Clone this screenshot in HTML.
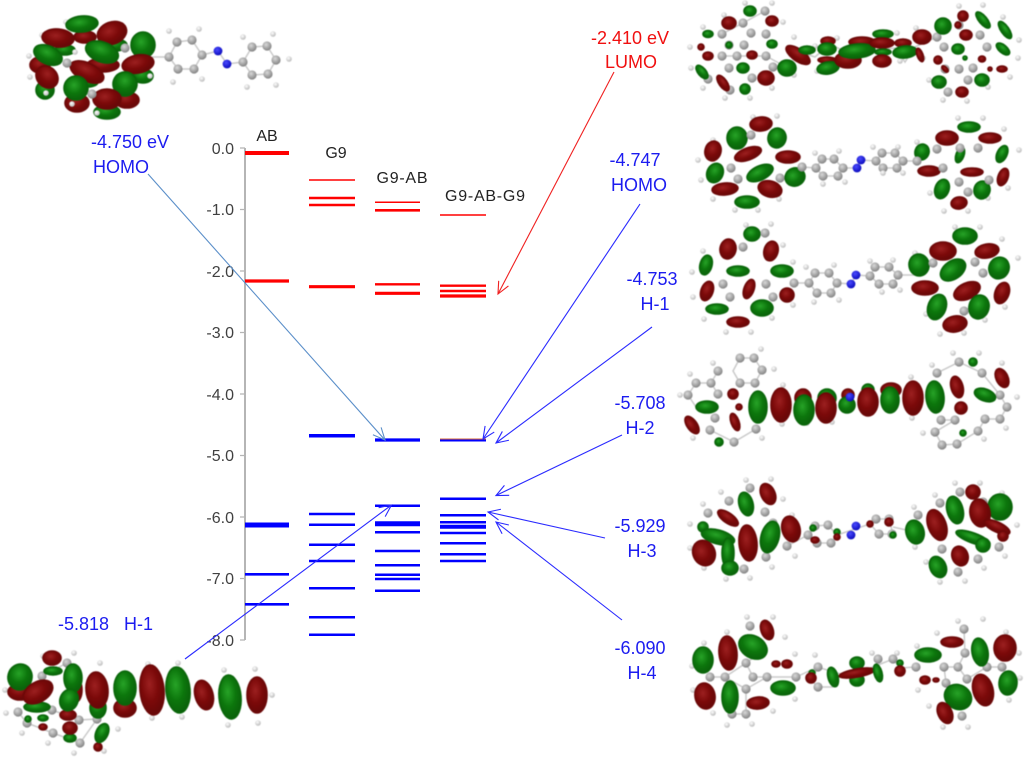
<!DOCTYPE html>
<html><head><meta charset="utf-8"><title>Energy level diagram</title>
<style>
html,body{margin:0;padding:0;background:#fff;width:1024px;height:757px;overflow:hidden}
svg{display:block}
text{font-family:"Liberation Sans",sans-serif;font-size:16px}
.b text,text.b{fill:#1c1cf0;font-size:18px}
.lu text{fill:#f01010;font-size:18px}
.ax text{fill:#404040;text-anchor:end;font-size:16px}
.t text{fill:#222;text-anchor:middle}
.g{fill:url(#gg);stroke:#0a660a;stroke-width:1.6}.r{fill:url(#rr);stroke:#6c0808;stroke-width:1.6}
.c{fill:url(#cc);r:4.6px}.h{fill:url(#hh);r:2.8px}.n{fill:url(#nn);r:4.4px}
.m{filter:blur(.5px)}
.bd{fill:none;stroke:#cacaca;stroke-width:1.5}
</style></head><body>
<svg width="1024" height="757" viewBox="0 0 1024 757" xmlns="http://www.w3.org/2000/svg">
<defs>
<radialGradient id="gg" cx=".42" cy=".38" r=".7"><stop offset="0" stop-color="#27a327"/><stop offset=".5" stop-color="#0c760c"/><stop offset="1" stop-color="#0a5c0a"/></radialGradient>
<radialGradient id="rr" cx=".42" cy=".38" r=".7"><stop offset="0" stop-color="#9c2020"/><stop offset=".5" stop-color="#7b0909"/><stop offset="1" stop-color="#600808"/></radialGradient>
<radialGradient id="cc" cx=".4" cy=".35" r=".7"><stop offset="0" stop-color="#d8d8d8"/><stop offset="1" stop-color="#7e7e7e"/></radialGradient>
<radialGradient id="hh" cx=".4" cy=".35" r=".7"><stop offset="0" stop-color="#fff"/><stop offset="1" stop-color="#b4b4b4"/></radialGradient>
<radialGradient id="nn" cx=".4" cy=".35" r=".7"><stop offset="0" stop-color="#4a4aff"/><stop offset="1" stop-color="#0606b8"/></radialGradient>
<marker id="ma" markerUnits="userSpaceOnUse" markerWidth="16" markerHeight="16" refX="13" refY="8" orient="auto"><path d="M1 2.5L13 8L1 13.5" fill="none" stroke="#5b8fc9" stroke-width="1.1"/></marker>
<marker id="mr" markerUnits="userSpaceOnUse" markerWidth="16" markerHeight="16" refX="13" refY="8" orient="auto"><path d="M1 2.5L13 8L1 13.5" fill="none" stroke="#f02020" stroke-width="1.1"/></marker>
<marker id="mb" markerUnits="userSpaceOnUse" markerWidth="16" markerHeight="16" refX="13" refY="8" orient="auto"><path d="M1 2.5L13 8L1 13.5" fill="none" stroke="#2a2aff" stroke-width="1.1"/></marker>
</defs>

<!-- axis -->
<path d="M245 148V640" stroke="#b5b5b5" stroke-width="2"/>
<path d="M240 148H245M240 209.5H245M240 271H245M240 332.500H245M240 394H245M240 455.500H245M240 517H245M240 578.500H245M240 640H245" stroke="#b5b5b5" stroke-width="1.2"/>
<g class="ax">
<text x="234" y="154">0.0</text><text x="234" y="215">-1.0</text><text x="234" y="277">-2.0</text><text x="234" y="338">-3.0</text><text x="234" y="400">-4.0</text><text x="234" y="461">-5.0</text><text x="234" y="523">-6.0</text><text x="234" y="584">-7.0</text><text x="234" y="646">-8.0</text>
</g>
<g class="t">
<text x="267" y="141">AB</text><text x="336" y="158">G9</text><text x="402" y="183" textLength="51">G9-AB</text><text x="485" y="201" textLength="80">G9-AB-G9</text>
</g>

<!-- red levels -->
<g stroke="#ff0000">
<path d="M245 153H289" stroke-width="4"/><path d="M245 281H289" stroke-width="3.2"/>
<path d="M309 180H355" stroke-width="1.5"/><path d="M309 198H355M309 205H355" stroke-width="2.6"/><path d="M309 286.700H355" stroke-width="3.2"/>
<path d="M375 202.300H420" stroke-width="1.5"/><path d="M375 210.300H420" stroke-width="2.6"/><path d="M375 284.300H420" stroke-width="2.400"/><path d="M375 293.300H420" stroke-width="3.200"/>
<path d="M440 215H486" stroke-width="1.5"/><path d="M440 285.700H486M440 291H486" stroke-width="2.400"/><path d="M440 296H486" stroke-width="3.200"/>
</g>
<!-- blue levels -->
<g stroke="#0000ff">
<path d="M245 525H289" stroke-width="5"/><path d="M245 574.300H289M245 604.300H289" stroke-width="2.6"/>
<path d="M309 435.700H355" stroke-width="3.500"/><path d="M309 514H355M309 524.700H355M309 544.700H355M309 561H355M309 588.300H355M309 617.300H355M309 634.700H355" stroke-width="2.500"/>
<path d="M375 440H420" stroke-width="3.200"/><path d="M375 523.700H420" stroke-width="5"/><path d="M375 505.700H420M375 532.300H420M375 551H420M375 565.300H420M375 574.700H420M375 579H420M375 590.700H420" stroke-width="2.500"/>
<path d="M440 440.500H486" stroke-width="2"/><path d="M440 526.700H486" stroke-width="4"/><path d="M440 498.700H486M440 515.300H486M440 522.300H486M440 533H486M440 543.300H486M440 554.300H486M440 561H486" stroke-width="2.500"/>
</g>
<path d="M440 439H486" stroke="#d9683a" stroke-width="1"/>

<!-- arrows -->
<g fill="none" stroke-width="1.100">
<path d="M148 174L385 440" stroke="#5b8fc9" marker-end="url(#ma)"/>
<path d="M614 72L498 294" stroke="#f02020" marker-end="url(#mr)"/>
<g stroke="#2a2aff">
<path d="M640 204L483 439" marker-end="url(#mb)"/>
<path d="M652 327L496 443" marker-end="url(#mb)"/>
<path d="M622 435L496 495.500" marker-end="url(#mb)"/>
<path d="M605 538L488 512" marker-end="url(#mb)"/>
<path d="M622 620L496 522" marker-end="url(#mb)"/>
<path d="M185 659L391.500 505" marker-end="url(#mb)"/>
</g></g>

<!-- labels -->
<g class="b" text-anchor="middle">
<text x="130" y="148">-4.750 eV</text><text x="121" y="173">HOMO</text>
<text x="635" y="166">-4.747</text><text x="639" y="191">HOMO</text>
<text x="652" y="285">-4.753</text><text x="655" y="310">H-1</text>
<text x="640" y="409">-5.708</text><text x="640" y="434">H-2</text>
<text x="640" y="532">-5.929</text><text x="642" y="557">H-3</text>
<text x="640" y="654">-6.090</text><text x="642" y="679">H-4</text>
</g>
<text class="b" x="58" y="630" xml:space="preserve">-5.818   H-1</text>
<g class="lu" text-anchor="middle"><text x="630" y="44">-2.410 eV</text><text x="631" y="68">LUMO</text></g>

<g class="m">
<!-- AB top-left -->
<path class="bd" d="M169 57L177 42L192 40L202 55L194 69L178 69ZM202 55L218 51L227 64L243 62L252 47L267 46L276 60L268 74L252 75L243 62M150 57L169 57"/>
<circle class="c" cx="169" cy="57"/><circle class="c" cx="177" cy="42"/><circle class="c" cx="192" cy="40"/><circle class="c" cx="202" cy="55"/><circle class="c" cx="194" cy="69"/><circle class="c" cx="178" cy="69"/>
<circle class="n" cx="218" cy="51"/><circle class="n" cx="227" cy="64"/>
<circle class="c" cx="243" cy="62"/><circle class="c" cx="252" cy="47"/><circle class="c" cx="267" cy="46"/><circle class="c" cx="276" cy="60"/><circle class="c" cx="268" cy="74"/><circle class="c" cx="252" cy="75"/>
<circle class="h" cx="169" cy="31"/><circle class="h" cx="199" cy="29"/><circle class="h" cx="202" cy="79"/><circle class="h" cx="173" cy="82"/><circle class="h" cx="243" cy="37"/><circle class="h" cx="273" cy="34"/><circle class="h" cx="289" cy="59"/><circle class="h" cx="276" cy="85"/><circle class="h" cx="247" cy="87"/>
<circle class="h" cx="29" cy="56"/><circle class="h" cx="30" cy="77"/><circle class="h" cx="42" cy="35"/><circle class="h" cx="66" cy="22"/><circle class="h" cx="126" cy="92"/>
<ellipse class="r" cx="85" cy="37" rx="11" ry="6"/><ellipse class="r" cx="40" cy="65" rx="10" ry="8"/><ellipse class="g" cx="45" cy="90" rx="9" ry="9"/><ellipse class="r" cx="77" cy="103" rx="12" ry="9"/><ellipse class="r" cx="127" cy="100" rx="12" ry="8"/><ellipse class="g" cx="143" cy="76" rx="10" ry="7"/><ellipse class="r" cx="103" cy="65" rx="16" ry="7"/><ellipse class="g" cx="107" cy="112" rx="13" ry="7"/><ellipse class="g" cx="65" cy="50" rx="10" ry="5"/><ellipse class="g" cx="115" cy="45" rx="12" ry="6"/><ellipse class="g" cx="88" cy="82" rx="10" ry="5"/>
<ellipse class="g" cx="82" cy="24" rx="16" ry="8" transform="rotate(-5 82 24)"/>
<ellipse class="r" cx="58" cy="38" rx="16" ry="9" transform="rotate(5 58 38)"/>
<ellipse class="r" cx="112" cy="33" rx="15" ry="11" transform="rotate(-20 112 33)"/>
<ellipse class="g" cx="143" cy="45" rx="12" ry="13"/>
<ellipse class="g" cx="48" cy="55" rx="15" ry="9" transform="rotate(25 48 55)"/>
<ellipse class="g" cx="102" cy="52" rx="17" ry="10" transform="rotate(20 102 52)"/>
<ellipse class="r" cx="138" cy="64" rx="16" ry="9" transform="rotate(-10 138 64)"/>
<ellipse class="r" cx="47" cy="77" rx="12" ry="10" transform="rotate(45 47 77)"/>
<ellipse class="r" cx="87" cy="72" rx="18" ry="9" transform="rotate(25 87 72)"/>
<ellipse class="g" cx="76" cy="88" rx="12" ry="12"/>
<ellipse class="g" cx="125" cy="84" rx="12" ry="12" transform="rotate(30 125 84)"/>
<ellipse class="r" cx="107" cy="99" rx="14" ry="10"/>
<circle class="h" cx="75" cy="52"/><circle class="c" cx="67" cy="63"/><circle class="c" cx="125" cy="48"/><circle class="h" cx="72" cy="104"/><circle class="h" cx="97" cy="113"/><circle class="h" cx="150" cy="76"/><circle class="h" cx="46" cy="93"/><circle class="c" cx="92" cy="94"/>

<!-- LUMO top-right -->
<path class="bd" d="M794 50L815 57L830 44L846 52L866 57L880 50L895 48L905 62L915 47L937 37M722 34L743 23L765 11M722 56L737 56L766 56L786 67"/>
<circle class="c" cx="765" cy="11"/><circle class="c" cx="743" cy="23"/><circle class="c" cx="751" cy="33"/><circle class="c" cx="722" cy="34"/><circle class="c" cx="729" cy="45"/><circle class="c" cx="744" cy="45"/><circle class="c" cx="766" cy="34"/><circle class="c" cx="722" cy="56"/><circle class="c" cx="737" cy="56"/><circle class="c" cx="766" cy="56"/><circle class="c" cx="729" cy="68"/><circle class="c" cx="773" cy="67"/><circle class="c" cx="752" cy="78"/><circle class="c" cx="708" cy="79"/><circle class="c" cx="730" cy="90"/>
<circle class="c" cx="959" cy="25"/><circle class="c" cx="937" cy="37"/><circle class="c" cx="980" cy="35"/><circle class="c" cx="944" cy="47"/><circle class="c" cx="987" cy="47"/><circle class="c" cx="959" cy="69"/><circle class="c" cx="945" cy="69"/><circle class="c" cx="968" cy="80"/><circle class="c" cx="948" cy="92"/><circle class="c" cx="973" cy="68"/>
<circle class="h" cx="772" cy="3"/><circle class="h" cx="745" cy="3"/><circle class="h" cx="724" cy="15"/><circle class="h" cx="703" cy="27"/><circle class="h" cx="690" cy="47"/><circle class="h" cx="691" cy="68"/><circle class="h" cx="703" cy="88"/><circle class="h" cx="725" cy="98"/><circle class="h" cx="750" cy="98"/><circle class="h" cx="772" cy="88"/><circle class="h" cx="783" cy="22"/><circle class="h" cx="794" cy="37"/><circle class="h" cx="794" cy="75"/><circle class="h" cx="815" cy="46"/><circle class="h" cx="837" cy="38"/><circle class="h" cx="817" cy="71"/><circle class="h" cx="897" cy="33"/><circle class="h" cx="900" cy="61"/><circle class="h" cx="923" cy="58"/><circle class="h" cx="916" cy="28"/><circle class="h" cx="959" cy="6"/><circle class="h" cx="983" cy="5"/><circle class="h" cx="1003" cy="17"/><circle class="h" cx="1019" cy="40"/><circle class="h" cx="1018" cy="58"/><circle class="h" cx="1010" cy="77"/><circle class="h" cx="988" cy="87"/><circle class="h" cx="967" cy="101"/><circle class="h" cx="943" cy="100"/><circle class="h" cx="929" cy="80"/>
<ellipse class="g" cx="750" cy="11" rx="6" ry="5"/><ellipse class="r" cx="729" cy="23" rx="7" ry="6"/><ellipse class="r" cx="772" cy="21" rx="6" ry="5"/><ellipse class="g" cx="708" cy="34" rx="5" ry="3.500"/><ellipse class="g" cx="729" cy="45" rx="3" ry="3"/><ellipse class="r" cx="701" cy="47" rx="3" ry="3"/><ellipse class="r" cx="708" cy="56" rx="5" ry="4"/><ellipse class="r" cx="752" cy="55" rx="5" ry="4"/><ellipse class="g" cx="772" cy="44" rx="5" ry="4"/><ellipse class="g" cx="743" cy="68" rx="6" ry="5"/>
<ellipse class="g" cx="702" cy="72" rx="8" ry="4" transform="rotate(50 702 72)"/><ellipse class="r" cx="723" cy="83" rx="9" ry="4" transform="rotate(55 723 83)"/><ellipse class="g" cx="745" cy="89" rx="5" ry="5"/><ellipse class="r" cx="766" cy="78" rx="8" ry="7"/><ellipse class="g" cx="787" cy="68" rx="9" ry="8"/>
<ellipse class="r" cx="798" cy="55" rx="14" ry="6" transform="rotate(35 798 55)"/><ellipse class="g" cx="807" cy="50" rx="8" ry="4"/><ellipse class="r" cx="828" cy="41" rx="7" ry="4"/><ellipse class="g" cx="827" cy="49" rx="9" ry="6"/><ellipse class="r" cx="827" cy="60" rx="9" ry="3"/><ellipse class="g" cx="828" cy="68" rx="11" ry="6" transform="rotate(-10 828 68)"/>
<ellipse class="r" cx="862" cy="42" rx="13" ry="5"/><ellipse class="r" cx="848" cy="60" rx="13" ry="8"/><ellipse class="g" cx="857" cy="51" rx="18" ry="7" transform="rotate(-5 857 51)"/><ellipse class="g" cx="883" cy="34" rx="10" ry="4"/><ellipse class="r" cx="882" cy="43" rx="12" ry="5"/><ellipse class="g" cx="883" cy="52" rx="8" ry="3"/><ellipse class="r" cx="882" cy="61" rx="9" ry="6"/><ellipse class="r" cx="903" cy="43" rx="8" ry="4"/><ellipse class="g" cx="905" cy="52" rx="12" ry="6" transform="rotate(-5 905 52)"/>
<ellipse class="r" cx="920" cy="55" rx="3" ry="7" transform="rotate(-20 920 55)"/><ellipse class="r" cx="922" cy="37" rx="9" ry="7"/><ellipse class="g" cx="943" cy="26" rx="8" ry="8"/><ellipse class="r" cx="958" cy="25" rx="3" ry="3"/><ellipse class="r" cx="966" cy="35" rx="6" ry="5"/><ellipse class="r" cx="963" cy="16" rx="5" ry="5"/><ellipse class="g" cx="983" cy="20" rx="10" ry="4" transform="rotate(50 983 20)"/><ellipse class="g" cx="1005" cy="30" rx="10" ry="4" transform="rotate(55 1005 30)"/><ellipse class="g" cx="958" cy="49" rx="6" ry="5"/><ellipse class="g" cx="965" cy="58" rx="2" ry="2"/><ellipse class="r" cx="982" cy="59" rx="3.500" ry="3"/><ellipse class="g" cx="1003" cy="49" rx="8" ry="4" transform="rotate(40 1003 49)"/><ellipse class="r" cx="1002" cy="69" rx="5" ry="3"/><ellipse class="r" cx="990" cy="69" rx="2" ry="2"/><ellipse class="g" cx="982" cy="80" rx="7" ry="6"/><ellipse class="r" cx="962" cy="92" rx="6" ry="5"/><ellipse class="g" cx="939" cy="82" rx="7" ry="6"/><ellipse class="r" cx="938" cy="60" rx="4" ry="4"/><ellipse class="r" cx="945" cy="69" rx="4" ry="2" transform="rotate(45 945 69)"/>

<!-- HOMO -->
<path class="bd" d="M802 167L816 168L823 176L838 176L843 168L834 159L822 159L816 168M843 168L857 168L861 160L876 161L882 153L895 153L903 161L897 168L883 168L876 161M903 161L917 161"/>
<circle class="c" cx="816" cy="168"/><circle class="c" cx="823" cy="176"/><circle class="c" cx="838" cy="176"/><circle class="c" cx="843" cy="168"/><circle class="c" cx="834" cy="159"/><circle class="c" cx="822" cy="159"/>
<circle class="n" cx="861" cy="160"/><circle class="n" cx="857" cy="168"/>
<circle class="c" cx="876" cy="161"/><circle class="c" cx="882" cy="153"/><circle class="c" cx="895" cy="153"/><circle class="c" cx="903" cy="161"/><circle class="c" cx="897" cy="168"/><circle class="c" cx="883" cy="168"/>
<circle class="h" cx="777" cy="116"/><circle class="h" cx="753" cy="117"/><circle class="h" cx="713" cy="140"/><circle class="h" cx="698" cy="160"/><circle class="h" cx="701" cy="180"/><circle class="h" cx="713" cy="199"/><circle class="h" cx="735" cy="210"/><circle class="h" cx="758" cy="210"/><circle class="h" cx="779" cy="199"/><circle class="h" cx="958" cy="118"/><circle class="h" cx="983" cy="118"/><circle class="h" cx="1004" cy="129"/><circle class="h" cx="1019" cy="150"/><circle class="h" cx="1008" cy="188"/><circle class="h" cx="988" cy="198"/><circle class="h" cx="968" cy="211"/><circle class="h" cx="944" cy="211"/><circle class="h" cx="930" cy="193"/><circle class="h" cx="917" cy="142"/><circle class="h" cx="815" cy="153"/><circle class="h" cx="839" cy="151"/><circle class="h" cx="845" cy="182"/><circle class="h" cx="823" cy="184"/><circle class="h" cx="873" cy="147"/><circle class="h" cx="898" cy="147"/><circle class="h" cx="883" cy="173"/><circle class="h" cx="903" cy="173"/>
<ellipse class="r" cx="761" cy="124" rx="11" ry="7" transform="rotate(-5 761 124)"/><ellipse class="g" cx="737" cy="138" rx="10" ry="11"/><ellipse class="g" cx="777" cy="138" rx="9" ry="10" transform="rotate(15 777 138)"/><ellipse class="r" cx="713" cy="151" rx="8" ry="10" transform="rotate(15 713 151)"/><ellipse class="r" cx="748" cy="154" rx="14" ry="6" transform="rotate(-20 748 154)"/><ellipse class="r" cx="788" cy="157" rx="12" ry="6"/><ellipse class="g" cx="715" cy="173" rx="8" ry="10" transform="rotate(25 715 173)"/><ellipse class="g" cx="760" cy="173" rx="14" ry="7" transform="rotate(-25 760 173)"/><ellipse class="g" cx="795" cy="177" rx="10" ry="9" transform="rotate(-20 795 177)"/><ellipse class="r" cx="725" cy="189" rx="13" ry="6" transform="rotate(-5 725 189)"/><ellipse class="r" cx="770" cy="189" rx="12" ry="8" transform="rotate(15 770 189)"/><ellipse class="g" cx="747" cy="202" rx="12" ry="6"/>
<ellipse class="g" cx="969" cy="127" rx="11" ry="5"/><ellipse class="r" cx="947" cy="138" rx="11" ry="7"/><ellipse class="r" cx="990" cy="138" rx="11" ry="5"/><ellipse class="g" cx="922" cy="152" rx="7" ry="8" transform="rotate(20 922 152)"/><ellipse class="g" cx="960" cy="155" rx="4" ry="8" transform="rotate(20 960 155)"/><ellipse class="g" cx="1002" cy="154" rx="5" ry="9" transform="rotate(25 1002 154)"/><ellipse class="r" cx="929" cy="171" rx="11" ry="5"/><ellipse class="r" cx="972" cy="172" rx="11" ry="4"/><ellipse class="r" cx="1003" cy="177" rx="5" ry="9" transform="rotate(20 1003 177)"/><ellipse class="g" cx="942" cy="189" rx="7" ry="10" transform="rotate(20 942 189)"/><ellipse class="g" cx="982" cy="190" rx="8" ry="9" transform="rotate(15 982 190)"/><ellipse class="r" cx="959" cy="203" rx="8" ry="6" transform="rotate(-10 959 203)"/>
<circle class="c" cx="751" cy="135"/><circle class="c" cx="731" cy="168"/><circle class="c" cx="738" cy="179"/><circle class="c" cx="780" cy="178"/><circle class="c" cx="802" cy="167"/><circle class="c" cx="937" cy="149"/><circle class="c" cx="978" cy="148"/><circle class="c" cx="917" cy="161"/><circle class="c" cx="943" cy="168"/><circle class="c" cx="959" cy="182"/><circle class="c" cx="968" cy="192"/><circle class="c" cx="989" cy="180"/><circle class="c" cx="960" cy="148"/>

<!-- H-1 -->
<path class="bd" d="M794 283L809 283L817 293L831 293L837 283L829 273L815 273L809 283M837 283L851 284L856 275L870 276L879 284L893 284L898 275L889 267L875 267L870 276M898 275L917 275"/>
<circle class="c" cx="809" cy="283"/><circle class="c" cx="817" cy="293"/><circle class="c" cx="831" cy="293"/><circle class="c" cx="837" cy="283"/><circle class="c" cx="829" cy="273"/><circle class="c" cx="815" cy="273"/>
<circle class="n" cx="856" cy="275"/><circle class="n" cx="851" cy="284"/>
<circle class="c" cx="870" cy="276"/><circle class="c" cx="879" cy="284"/><circle class="c" cx="893" cy="284"/><circle class="c" cx="898" cy="275"/><circle class="c" cx="889" cy="267"/><circle class="c" cx="875" cy="267"/>
<circle class="h" cx="746" cy="225"/><circle class="h" cx="771" cy="224"/><circle class="h" cx="703" cy="251"/><circle class="h" cx="783" cy="245"/><circle class="h" cx="692" cy="272"/><circle class="h" cx="693" cy="297"/><circle class="h" cx="704" cy="319"/><circle class="h" cx="726" cy="332"/><circle class="h" cx="751" cy="332"/><circle class="h" cx="772" cy="318"/><circle class="h" cx="793" cy="262"/><circle class="h" cx="793" cy="305"/><circle class="h" cx="955" cy="227"/><circle class="h" cx="980" cy="227"/><circle class="h" cx="1002" cy="239"/><circle class="h" cx="1018" cy="258"/><circle class="h" cx="1005" cy="307"/><circle class="h" cx="985" cy="320"/><circle class="h" cx="964" cy="333"/><circle class="h" cx="940" cy="334"/><circle class="h" cx="926" cy="314"/><circle class="h" cx="915" cy="253"/><circle class="h" cx="806" cy="267"/><circle class="h" cx="834" cy="265"/><circle class="h" cx="814" cy="302"/><circle class="h" cx="839" cy="300"/><circle class="h" cx="870" cy="261"/><circle class="h" cx="893" cy="260"/><circle class="h" cx="882" cy="292"/><circle class="h" cx="900" cy="290"/>
<ellipse class="g" cx="752" cy="234" rx="8" ry="7"/><ellipse class="r" cx="728" cy="249" rx="8" ry="10" transform="rotate(10 728 249)"/><ellipse class="r" cx="771" cy="251" rx="7" ry="10" transform="rotate(15 771 251)"/><ellipse class="g" cx="706" cy="265" rx="6" ry="10" transform="rotate(15 706 265)"/><ellipse class="g" cx="738" cy="271" rx="11" ry="5"/><ellipse class="g" cx="782" cy="271" rx="11" ry="6"/><ellipse class="r" cx="707" cy="291" rx="6" ry="10" transform="rotate(20 707 291)"/><ellipse class="r" cx="749" cy="289" rx="5" ry="10" transform="rotate(20 749 289)"/><ellipse class="r" cx="787" cy="295" rx="7" ry="7"/><ellipse class="g" cx="717" cy="309" rx="11" ry="5"/><ellipse class="g" cx="762" cy="308" rx="11" ry="8"/><ellipse class="r" cx="738" cy="322" rx="11" ry="5"/>
<ellipse class="g" cx="965" cy="236" rx="12" ry="8"/><ellipse class="r" cx="943" cy="251" rx="13" ry="9"/><ellipse class="r" cx="987" cy="251" rx="12" ry="7" transform="rotate(-10 987 251)"/><ellipse class="g" cx="919" cy="265" rx="10" ry="11" transform="rotate(-10 919 265)"/><ellipse class="g" cx="953" cy="270" rx="14" ry="9" transform="rotate(-35 953 270)"/><ellipse class="g" cx="999" cy="268" rx="10" ry="11" transform="rotate(25 999 268)"/><ellipse class="r" cx="925" cy="288" rx="13" ry="7"/><ellipse class="r" cx="967" cy="291" rx="14" ry="8" transform="rotate(-25 967 291)"/><ellipse class="r" cx="1002" cy="293" rx="7" ry="11" transform="rotate(20 1002 293)"/><ellipse class="g" cx="937" cy="307" rx="9" ry="13" transform="rotate(20 937 307)"/><ellipse class="g" cx="979" cy="307" rx="10" ry="12" transform="rotate(15 979 307)"/><ellipse class="r" cx="955" cy="324" rx="12" ry="8" transform="rotate(-10 955 324)"/>
<circle class="c" cx="794" cy="283"/><circle class="c" cx="765" cy="233"/><circle class="c" cx="743" cy="247"/><circle class="c" cx="723" cy="284"/><circle class="c" cx="730" cy="297"/><circle class="c" cx="766" cy="284"/><circle class="c" cx="773" cy="297"/><circle class="c" cx="933" cy="263"/><circle class="c" cx="975" cy="262"/><circle class="c" cx="983" cy="273"/><circle class="c" cx="964" cy="311"/>

<!-- H-2 -->
<path class="bd" d="M740 358L754 358L762 370L755 383L740 383L733 371L740 358M718 371L711 383L696 383L688 395L696 407M718 394L711 383M710 430L734 442L756 429M959 362L982 373L1000 395L1007 407L1000 419L985 419L978 431M937 373L959 362M941 420L955 420L935 432L942 445L957 444L978 431"/>
<circle class="c" cx="740" cy="358"/><circle class="c" cx="754" cy="358"/><circle class="c" cx="762" cy="370"/><circle class="c" cx="718" cy="371"/><circle class="c" cx="711" cy="383"/><circle class="c" cx="696" cy="383"/><circle class="c" cx="688" cy="395"/><circle class="c" cx="740" cy="383"/><circle class="c" cx="755" cy="383"/><circle class="c" cx="718" cy="394"/><circle class="c" cx="710" cy="430"/><circle class="c" cx="756" cy="429"/><circle class="c" cx="734" cy="442"/><circle class="c" cx="715" cy="418"/>
<circle class="c" cx="959" cy="362"/><circle class="c" cx="982" cy="373"/><circle class="c" cx="937" cy="373"/><circle class="c" cx="1000" cy="395"/><circle class="c" cx="1007" cy="407"/><circle class="c" cx="985" cy="419"/><circle class="c" cx="1000" cy="419"/><circle class="c" cx="978" cy="431"/><circle class="c" cx="955" cy="420"/><circle class="c" cx="941" cy="420"/><circle class="c" cx="935" cy="432"/><circle class="c" cx="957" cy="444"/><circle class="c" cx="942" cy="445"/>
<circle class="h" cx="761" cy="349"/><circle class="h" cx="713" cy="363"/><circle class="h" cx="690" cy="374"/><circle class="h" cx="774" cy="369"/><circle class="h" cx="680" cy="395"/><circle class="h" cx="693" cy="438"/><circle class="h" cx="762" cy="438"/><circle class="h" cx="953" cy="353"/><circle class="h" cx="979" cy="353"/><circle class="h" cx="932" cy="365"/><circle class="h" cx="1002" cy="363"/><circle class="h" cx="1017" cy="397"/><circle class="h" cx="1006" cy="428"/><circle class="h" cx="984" cy="439"/><circle class="h" cx="923" cy="433"/><circle class="h" cx="783" cy="385"/><circle class="h" cx="911" cy="377"/><circle class="h" cx="782" cy="424"/><circle class="h" cx="912" cy="418"/><circle class="h" cx="832" cy="422"/><circle class="h" cx="807" cy="423"/>
<ellipse class="g" cx="707" cy="407" rx="11" ry="6"/><ellipse class="r" cx="733" cy="394" rx="5" ry="5"/><ellipse class="r" cx="739" cy="407" rx="3" ry="3"/><ellipse class="r" cx="692" cy="425" rx="5" ry="10" transform="rotate(-35 692 425)"/><ellipse class="r" cx="735" cy="422" rx="4" ry="9" transform="rotate(-20 735 422)"/><ellipse class="g" cx="719" cy="442" rx="4" ry="4"/>
<ellipse class="g" cx="758" cy="407" rx="9" ry="16"/><ellipse class="r" cx="781" cy="405" rx="10" ry="17"/><ellipse class="r" cx="803" cy="398" rx="8" ry="9"/><ellipse class="g" cx="804" cy="410" rx="10" ry="15"/><ellipse class="g" cx="827" cy="398" rx="9" ry="9"/><ellipse class="r" cx="826" cy="408" rx="10" ry="15"/><ellipse class="r" cx="848" cy="395" rx="6" ry="6"/><ellipse class="g" cx="847" cy="405" rx="8" ry="8"/><circle class="n" cx="850" cy="397"/><ellipse class="g" cx="868" cy="390" rx="6" ry="6"/><ellipse class="r" cx="868" cy="402" rx="10" ry="14"/><ellipse class="r" cx="891" cy="390" rx="10" ry="7"/><ellipse class="g" cx="890" cy="400" rx="9" ry="13"/><ellipse class="r" cx="913" cy="398" rx="10" ry="17"/><ellipse class="g" cx="935" cy="397" rx="9" ry="16" transform="rotate(-5 935 397)"/><ellipse class="r" cx="957" cy="387" rx="6" ry="11" transform="rotate(-15 957 387)"/><ellipse class="g" cx="985" cy="395" rx="11" ry="6" transform="rotate(20 985 395)"/><ellipse class="r" cx="1002" cy="378" rx="6" ry="10" transform="rotate(-25 1002 378)"/><ellipse class="r" cx="961" cy="408" rx="6" ry="6"/><ellipse class="g" cx="973" cy="362" rx="4" ry="4"/><ellipse class="g" cx="963" cy="433" rx="3" ry="3"/>

<!-- H-3 -->
<path class="bd" d="M787 546L808 535L815 526L828 525L837 535L831 543L817 543L808 535M837 535L870 524L876 519L889 519L893 534L879 534L870 524M893 527L915 532"/>
<circle class="c" cx="750" cy="488"/><circle class="c" cx="729" cy="501"/><circle class="c" cx="708" cy="513"/><circle class="c" cx="765" cy="512"/><circle class="c" cx="766" cy="557"/><circle class="c" cx="744" cy="569"/><circle class="c" cx="787" cy="546"/><circle class="c" cx="773" cy="523"/>
<circle class="c" cx="808" cy="535"/><circle class="c" cx="815" cy="526"/><circle class="c" cx="828" cy="525"/><circle class="c" cx="831" cy="543"/><circle class="c" cx="817" cy="543"/><circle class="c" cx="876" cy="519"/><circle class="c" cx="879" cy="534"/><circle class="c" cx="892" cy="534"/><circle class="c" cx="889" cy="519"/>
<circle class="n" cx="856" cy="526"/><circle class="n" cx="851" cy="535"/>
<circle class="c" cx="960" cy="492"/><circle class="c" cx="940" cy="503"/><circle class="c" cx="918" cy="515"/><circle class="c" cx="983" cy="502"/><circle class="c" cx="942" cy="549"/><circle class="c" cx="978" cy="559"/><circle class="c" cx="999" cy="547"/><circle class="c" cx="958" cy="572"/>
<circle class="h" cx="771" cy="479"/><circle class="h" cx="746" cy="480"/><circle class="h" cx="721" cy="492"/><circle class="h" cx="703" cy="504"/><circle class="h" cx="690" cy="524"/><circle class="h" cx="690" cy="548"/><circle class="h" cx="704" cy="568"/><circle class="h" cx="726" cy="579"/><circle class="h" cx="750" cy="578"/><circle class="h" cx="772" cy="567"/><circle class="h" cx="783" cy="499"/><circle class="h" cx="792" cy="515"/><circle class="h" cx="795" cy="556"/><circle class="h" cx="955" cy="483"/><circle class="h" cx="980" cy="483"/><circle class="h" cx="935" cy="495"/><circle class="h" cx="914" cy="507"/><circle class="h" cx="1002" cy="493"/><circle class="h" cx="1017" cy="525"/><circle class="h" cx="1005" cy="556"/><circle class="h" cx="984" cy="568"/><circle class="h" cx="965" cy="581"/><circle class="h" cx="940" cy="582"/><circle class="h" cx="926" cy="562"/><circle class="h" cx="915" cy="547"/>
<ellipse class="r" cx="768" cy="494" rx="7" ry="11" transform="rotate(-25 768 494)"/><ellipse class="g" cx="746" cy="504" rx="7" ry="12" transform="rotate(-15 746 504)"/><ellipse class="r" cx="728" cy="518" rx="12" ry="5" transform="rotate(35 728 518)"/><ellipse class="r" cx="748" cy="543" rx="9" ry="18" transform="rotate(-5 748 543)"/><ellipse class="g" cx="770" cy="537" rx="9" ry="16" transform="rotate(15 770 537)"/><ellipse class="r" cx="791" cy="529" rx="9" ry="13" transform="rotate(-15 791 529)"/><ellipse class="g" cx="703" cy="527" rx="5" ry="5"/><ellipse class="g" cx="718" cy="537" rx="17" ry="7" transform="rotate(15 718 537)"/><ellipse class="g" cx="728" cy="553" rx="6" ry="15"/><ellipse class="g" cx="730" cy="568" rx="8" ry="7"/><ellipse class="r" cx="704" cy="553" rx="11" ry="13" transform="rotate(-25 704 553)"/>
<ellipse class="r" cx="815" cy="540" rx="4" ry="3"/><ellipse class="g" cx="813" cy="528" rx="3" ry="3"/><ellipse class="g" cx="837" cy="532" rx="3" ry="3"/><ellipse class="r" cx="837" cy="537" rx="3" ry="3"/><ellipse class="r" cx="889" cy="522" rx="4" ry="4"/><ellipse class="r" cx="870" cy="524" rx="3" ry="3"/><ellipse class="g" cx="893" cy="535" rx="3" ry="3"/>
<ellipse class="g" cx="915" cy="532" rx="9" ry="12" transform="rotate(-15 915 532)"/><ellipse class="r" cx="937" cy="525" rx="9" ry="16" transform="rotate(-20 937 525)"/><ellipse class="g" cx="1000" cy="507" rx="12" ry="13"/><ellipse class="g" cx="955" cy="510" rx="8" ry="14" transform="rotate(-15 955 510)"/><ellipse class="r" cx="973" cy="492" rx="7" ry="7"/><ellipse class="g" cx="973" cy="538" rx="18" ry="5" transform="rotate(20 973 538)"/><ellipse class="r" cx="980" cy="513" rx="10" ry="14" transform="rotate(-10 980 513)"/><ellipse class="r" cx="997" cy="527" rx="14" ry="5" transform="rotate(25 997 527)"/><ellipse class="r" cx="960" cy="556" rx="8" ry="10" transform="rotate(-20 960 556)"/><ellipse class="g" cx="938" cy="567" rx="8" ry="11" transform="rotate(-25 938 567)"/><ellipse class="g" cx="983" cy="545" rx="7" ry="7"/><ellipse class="r" cx="1003" cy="536" rx="5" ry="5"/>

<!-- H-4 -->
<path class="bd" d="M710 677L725 677L746 663L760 653M725 677L746 689L767 677L753 677L746 663M746 689L746 714L732 714M767 677L796 677L818 667L833 672L845 675L857 673L878 665L893 659L900 668L916 667M818 667L811 680L818 687L833 687M944 667L958 667L965 653L964 629M958 667L967 679L987 667L1002 667M944 667L946 683"/>
<circle class="c" cx="750" cy="626"/><circle class="c" cx="725" cy="677"/><circle class="c" cx="710" cy="677"/><circle class="c" cx="746" cy="689"/><circle class="c" cx="746" cy="714"/><circle class="c" cx="767" cy="677"/><circle class="c" cx="753" cy="677"/><circle class="c" cx="746" cy="663"/><circle class="c" cx="796" cy="677"/><circle class="c" cx="760" cy="653"/><circle class="c" cx="732" cy="714"/>
<circle class="c" cx="818" cy="687"/><circle class="c" cx="818" cy="667"/><circle class="c" cx="893" cy="659"/><circle class="c" cx="916" cy="667"/><circle class="c" cx="878" cy="659"/>
<circle class="c" cx="964" cy="629"/><circle class="c" cx="1002" cy="667"/><circle class="c" cx="987" cy="667"/><circle class="c" cx="958" cy="667"/><circle class="c" cx="944" cy="667"/><circle class="c" cx="965" cy="653"/><circle class="c" cx="967" cy="679"/><circle class="c" cx="962" cy="716"/><circle class="c" cx="946" cy="683"/>
<circle class="h" cx="773" cy="617"/><circle class="h" cx="747" cy="617"/><circle class="h" cx="727" cy="632"/><circle class="h" cx="704" cy="643"/><circle class="h" cx="692" cy="666"/><circle class="h" cx="693" cy="690"/><circle class="h" cx="713" cy="713"/><circle class="h" cx="727" cy="725"/><circle class="h" cx="752" cy="724"/><circle class="h" cx="773" cy="711"/><circle class="h" cx="795" cy="699"/><circle class="h" cx="795" cy="654"/><circle class="h" cx="785" cy="637"/><circle class="h" cx="958" cy="621"/><circle class="h" cx="983" cy="619"/><circle class="h" cx="937" cy="633"/><circle class="h" cx="917" cy="646"/><circle class="h" cx="1006" cy="632"/><circle class="h" cx="1019" cy="653"/><circle class="h" cx="1020" cy="678"/><circle class="h" cx="1009" cy="700"/><circle class="h" cx="968" cy="727"/><circle class="h" cx="943" cy="727"/><circle class="h" cx="929" cy="706"/><circle class="h" cx="918" cy="690"/><circle class="h" cx="815" cy="655"/><circle class="h" cx="872" cy="653"/><circle class="h" cx="897" cy="653"/>
<ellipse class="r" cx="767" cy="630" rx="6" ry="10" transform="rotate(-20 767 630)"/><ellipse class="g" cx="703" cy="660" rx="10" ry="13"/><ellipse class="r" cx="728" cy="653" rx="9" ry="17" transform="rotate(-5 728 653)"/><ellipse class="g" cx="753" cy="647" rx="15" ry="11" transform="rotate(30 753 647)"/><ellipse class="r" cx="787" cy="664" rx="5" ry="4"/><ellipse class="r" cx="776" cy="664" rx="4" ry="3"/><ellipse class="g" cx="783" cy="688" rx="12" ry="7"/><ellipse class="r" cx="705" cy="696" rx="10" ry="13" transform="rotate(-10 705 696)"/><ellipse class="g" cx="730" cy="697" rx="8" ry="16"/><ellipse class="r" cx="758" cy="703" rx="11" ry="6" transform="rotate(-5 758 703)"/>
<ellipse class="g" cx="812" cy="673" rx="3" ry="3"/><ellipse class="r" cx="811" cy="678" rx="5" ry="5"/><ellipse class="g" cx="833" cy="677" rx="5" ry="10" transform="rotate(-15 833 677)"/><ellipse class="g" cx="857" cy="663" rx="7" ry="6"/><ellipse class="g" cx="857" cy="680" rx="7" ry="6"/><ellipse class="r" cx="857" cy="673" rx="18" ry="4" transform="rotate(-10 857 673)"/><ellipse class="g" cx="878" cy="673" rx="4" ry="9" transform="rotate(-15 878 673)"/><ellipse class="g" cx="900" cy="663" rx="3" ry="3"/><ellipse class="r" cx="900" cy="671" rx="5" ry="5"/>
<ellipse class="g" cx="928" cy="655" rx="13" ry="7"/><ellipse class="r" cx="952" cy="642" rx="11" ry="5"/><ellipse class="g" cx="980" cy="652" rx="8" ry="14" transform="rotate(-10 980 652)"/><ellipse class="r" cx="1005" cy="648" rx="11" ry="13"/><ellipse class="g" cx="1008" cy="683" rx="9" ry="12" transform="rotate(5 1008 683)"/><ellipse class="r" cx="925" cy="680" rx="5" ry="4"/><ellipse class="r" cx="936" cy="680" rx="3" ry="2"/><ellipse class="g" cx="958" cy="697" rx="14" ry="12" transform="rotate(30 958 697)"/><ellipse class="r" cx="983" cy="690" rx="10" ry="16" transform="rotate(-15 983 690)"/><ellipse class="r" cx="945" cy="713" rx="7" ry="11" transform="rotate(-25 945 713)"/>

<!-- bottom-left -->
<path class="bd" d="M42 676L67 663M27 723L53 733L80 743L97 719L79 720M18 712L27 723M52 710L79 720"/>
<circle class="c" cx="42" cy="676"/><circle class="c" cx="18" cy="712"/><circle class="c" cx="52" cy="710"/><circle class="c" cx="79" cy="720"/><circle class="c" cx="97" cy="719"/><circle class="c" cx="53" cy="733"/><circle class="c" cx="80" cy="743"/><circle class="c" cx="67" cy="663"/><circle class="c" cx="27" cy="723"/>
<circle class="h" cx="5" cy="690"/><circle class="h" cx="6" cy="713"/><circle class="h" cx="22" cy="733"/><circle class="h" cx="43" cy="656"/><circle class="h" cx="74" cy="653"/><circle class="h" cx="100" cy="663"/><circle class="h" cx="148" cy="664"/><circle class="h" cx="178" cy="663"/><circle class="h" cx="224" cy="670"/><circle class="h" cx="255" cy="669"/><circle class="h" cx="272" cy="695"/><circle class="h" cx="258" cy="723"/><circle class="h" cx="228" cy="725"/><circle class="h" cx="182" cy="717"/><circle class="h" cx="152" cy="718"/><circle class="h" cx="118" cy="729"/><circle class="h" cx="48" cy="743"/><circle class="h" cx="74" cy="753"/><circle class="h" cx="104" cy="751"/><circle class="h" cx="128" cy="712"/>
<ellipse class="r" cx="20" cy="692" rx="12" ry="8"/><ellipse class="g" cx="20" cy="677" rx="12" ry="13" transform="rotate(15 20 677)"/><ellipse class="g" cx="53" cy="671" rx="9" ry="4"/><ellipse class="r" cx="52" cy="658" rx="9" ry="7"/><ellipse class="g" cx="37" cy="707" rx="13" ry="5"/><ellipse class="r" cx="38" cy="692" rx="16" ry="10" transform="rotate(-30 38 692)"/><ellipse class="r" cx="68" cy="715" rx="8" ry="5"/><ellipse class="r" cx="76" cy="690" rx="6" ry="12"/><ellipse class="g" cx="73" cy="678" rx="9" ry="14"/><ellipse class="g" cx="69" cy="700" rx="9" ry="11" transform="rotate(20 69 700)"/><ellipse class="g" cx="98" cy="708" rx="8" ry="10"/><ellipse class="r" cx="97" cy="690" rx="11" ry="18" transform="rotate(-5 97 690)"/><ellipse class="r" cx="125" cy="708" rx="11" ry="9"/><ellipse class="g" cx="125" cy="688" rx="11" ry="17"/><ellipse class="r" cx="152" cy="690" rx="12" ry="25" transform="rotate(-5 152 690)"/><ellipse class="g" cx="178" cy="690" rx="12" ry="23" transform="rotate(-5 178 690)"/><ellipse class="r" cx="204" cy="695" rx="9" ry="15" transform="rotate(-15 204 695)"/><ellipse class="g" cx="230" cy="697" rx="11" ry="22" transform="rotate(-5 230 697)"/><ellipse class="r" cx="257" cy="695" rx="10" ry="18"/><ellipse class="g" cx="28" cy="719" rx="3" ry="3"/><ellipse class="g" cx="43" cy="718" rx="5" ry="3"/><ellipse class="r" cx="43" cy="727" rx="4" ry="3"/><ellipse class="g" cx="70" cy="738" rx="6" ry="4"/><ellipse class="r" cx="70" cy="728" rx="7" ry="6"/><ellipse class="r" cx="98" cy="747" rx="4" ry="4"/><ellipse class="g" cx="102" cy="733" rx="6" ry="10" transform="rotate(25 102 733)"/>
</g>
</svg>
</body></html>
